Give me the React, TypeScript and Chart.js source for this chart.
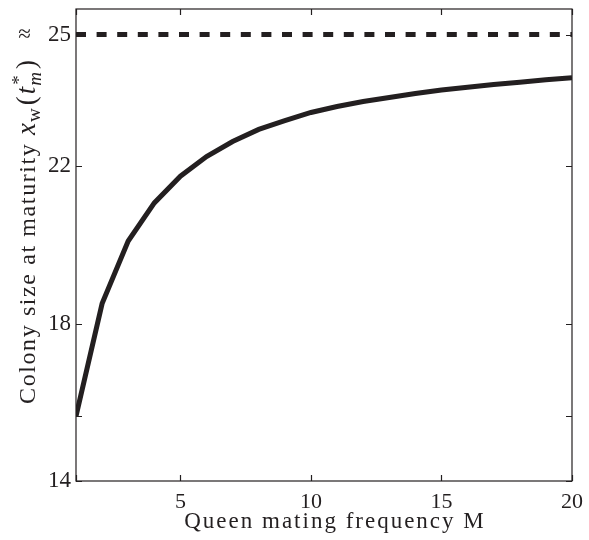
import React, { useEffect, useRef } from "react";
import { Chart, registerables } from "chart.js";

Chart.register(...registerables);

// ---- data ----
const mating: number[] = [1, 2, 3, 4, 5, 6, 7, 8, 9, 10, 11, 12, 13, 14, 15, 16, 17, 18, 19, 20];
const colonySize: number[] = [
  15.65, 18.51, 20.1, 21.07, 21.75, 22.25, 22.63, 22.94, 23.16, 23.37,
  23.52, 23.65, 23.75, 23.85, 23.94, 24.01, 24.08, 24.14, 24.2, 24.25,
];
const asymptoteX: number[] = [1, 20];
const asymptoteY: number[] = [25.35, 25.35];

const xTickValues: number[] = [1, 5, 10, 15, 20];
const xTickLabels: string[] = ["", "5", "10", "15", "20"];
const yTickValues: number[] = [14, 15.65, 18, 22, 25.35];
const yTickLabels: string[] = ["14", "", "18", "22", "\u2248   25"];

const xTitle = "Queen mating frequency M";
const yTitlePlain = "Colony size at maturity ";

const INK = "#231f20";
const SERIF = "'Liberation Serif', 'Times New Roman', serif";

const framePlugin = {
  id: "frameAndTitles",
  afterDatasetsDraw(chart: any) {
    const { ctx, chartArea: a, scales } = chart;
    const xs = scales.x;
    const ys = scales.y;
    ctx.save();
    ctx.strokeStyle = INK;
    ctx.lineWidth = 1.2;
    ctx.strokeRect(a.left, a.top, a.right - a.left, a.bottom - a.top);
    const tl = 6;
    ctx.beginPath();
    yTickValues.forEach((v) => {
      const py = Math.round(ys.getPixelForValue(v)) + 0.5;
      ctx.moveTo(a.left, py);
      ctx.lineTo(a.left + tl, py);
      ctx.moveTo(a.right, py);
      ctx.lineTo(a.right - tl, py);
    });
    xTickValues.forEach((v) => {
      const px = Math.round(xs.getPixelForValue(v)) + 0.5;
      ctx.moveTo(px, a.bottom);
      ctx.lineTo(px, a.bottom - tl);
      ctx.moveTo(px, a.top);
      ctx.lineTo(px, a.top + tl);
    });
    ctx.stroke();
    ctx.restore();

    // x title
    ctx.save();
    ctx.fillStyle = INK;
    ctx.font = `23px ${SERIF}`;
    try { (ctx as any).letterSpacing = "2px"; } catch (e) {}
    ctx.textAlign = "left";
    ctx.textBaseline = "alphabetic";
    const w = ctx.measureText(xTitle).width;
    ctx.fillText(xTitle, 335 - w / 2, 528);
    ctx.restore();

    // y title (rotated, with math)
    ctx.save();
    ctx.fillStyle = INK;
    ctx.textBaseline = "alphabetic";
    ctx.textAlign = "left";
    const big = 27;
    const small = 19;
    const segs: { t: string; f: string; dy: number; adv: boolean; sp: number; ls: string }[] = [
      { t: yTitlePlain, f: `24px ${SERIF}`, dy: 0, adv: true, sp: 0, ls: "1.6px" },
      { t: "x", f: `italic ${big}px ${SERIF}`, dy: 0, adv: true, sp: 1, ls: "0px" },
      { t: "w", f: `${small}px ${SERIF}`, dy: 5, adv: true, sp: 3, ls: "0px" },
      { t: "(", f: `${big}px ${SERIF}`, dy: 0, adv: true, sp: 2, ls: "0px" },
      { t: "t", f: `italic ${big}px ${SERIF}`, dy: 0, adv: true, sp: 1, ls: "0px" },
      { t: "*", f: `${small}px ${SERIF}`, dy: -10, adv: false, sp: 0, ls: "0px" },
      { t: "m", f: `italic ${small}px ${SERIF}`, dy: 6, adv: true, sp: 3, ls: "0px" },
      { t: ")", f: `${big}px ${SERIF}`, dy: 0, adv: true, sp: 0, ls: "0px" },
    ];
    let total = 0;
    segs.forEach((s) => {
      ctx.font = s.f;
      try { (ctx as any).letterSpacing = s.ls; } catch (e) {}
      if (s.adv) total += ctx.measureText(s.t).width + s.sp;
    });
    ctx.translate(35, 232);
    ctx.rotate(-Math.PI / 2);
    let cx = -total / 2;
    segs.forEach((s) => {
      ctx.font = s.f;
      try { (ctx as any).letterSpacing = s.ls; } catch (e) {}
      ctx.fillText(s.t, cx + (s.t === "*" ? 1 : 0), s.dy);
      if (s.adv) cx += ctx.measureText(s.t).width + s.sp;
    });
    ctx.restore();
  },
};

export default function App() {
  const ref = useRef<HTMLCanvasElement | null>(null);
  useEffect(() => {
    if (!ref.current) return;
    const chart = new Chart(ref.current, {
      type: "line",
      data: {
        datasets: [
          {
            label: "Colony size",
            data: mating.map((m, i) => ({ x: m, y: colonySize[i] })),
            borderColor: INK,
            borderWidth: 5,
            pointRadius: 0,
            tension: 0,
            fill: false,
          },
          {
            label: "Asymptote",
            data: asymptoteX.map((m, i) => ({ x: m, y: asymptoteY[i] })),
            borderColor: INK,
            borderWidth: 5,
            borderDash: [10, 10.6],
            borderCapStyle: "butt",
            pointRadius: 0,
            fill: false,
          },
        ],
      },
      options: {
        responsive: false,
        animation: false,
        layout: { padding: { left: 0, top: 9, right: 17, bottom: 0 } },
        plugins: { legend: { display: false }, tooltip: { enabled: false } },
        scales: {
          x: {
            type: "linear",
            min: 1,
            max: 20,
            grid: { display: false, drawTicks: false },
            border: { display: false },
            afterBuildTicks: (s: any) => {
              s.ticks = xTickValues.map((v) => ({ value: v }));
            },
            afterFit: (s: any) => {
              s.height = 59;
              s.paddingLeft = 0;
              s.paddingRight = 0;
            },
            ticks: {
              autoSkip: false,
              maxRotation: 0,
              padding: 8,
              color: INK,
              font: { family: SERIF, size: 22 },
              callback: (v: any) => {
                const i = xTickValues.indexOf(Number(v));
                return i >= 0 ? xTickLabels[i] : "";
              },
            },
          },
          y: {
            type: "linear",
            min: 14,
            max: 26,
            grid: { display: false, drawTicks: false },
            border: { display: false },
            afterBuildTicks: (s: any) => {
              s.ticks = yTickValues.map((v) => ({ value: v }));
            },
            afterFit: (s: any) => {
              s.width = 76;
              s.paddingTop = 0;
              s.paddingBottom = 0;
            },
            ticks: {
              autoSkip: false,
              padding: 5,
              color: INK,
              font: { family: SERIF, size: 23 },
              callback: (v: any) => {
                const i = yTickValues.indexOf(Number(v));
                return i >= 0 ? yTickLabels[i] : "";
              },
            },
          },
        },
      },
      plugins: [framePlugin],
    } as any);
    return () => chart.destroy();
  }, []);
  return (
    <canvas
      ref={ref}
      width={589}
      height={540}
      style={{ position: "absolute", left: 0, top: 0, width: 589, height: 540 }}
    />
  );
}
